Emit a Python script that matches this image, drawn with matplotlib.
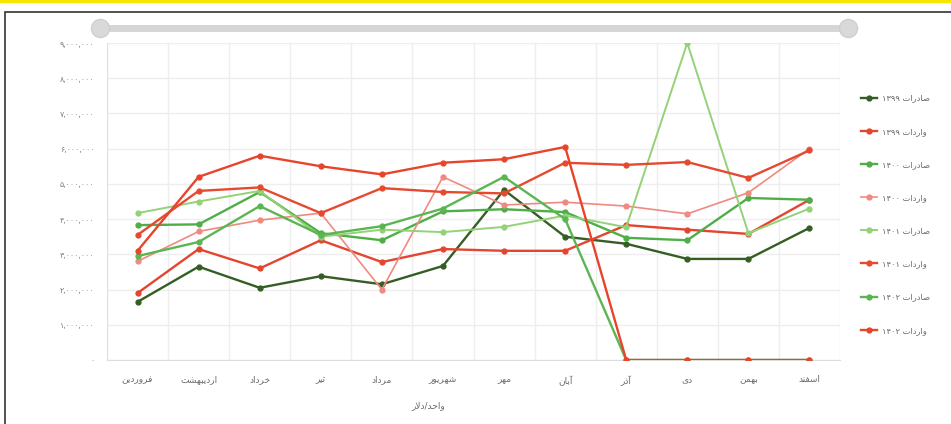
import matplotlib
matplotlib.use("Agg")
import matplotlib.pyplot as plt
from matplotlib.lines import Line2D
from matplotlib.patches import Rectangle

# months (farvardin .. esfand)
months = ["فروردین", "اردیبهشت", "خرداد", "تیر", "مرداد", "شهریور",
          "مهر", "آبان", "آذر", "دی", "بهمن", "اسفند"]

# values in millions
export_1399 = [1.65, 2.65, 2.05, 2.38, 2.15, 2.67, 4.83, 3.5, 3.3, 2.87, 2.87, 3.75]
import_1399 = [1.9, 3.15, 2.6, 3.4, 2.78, 3.15, 3.1, 3.1, 3.83, 3.7, 3.58, 4.55]
export_1400 = [3.83, 3.85, 4.77, 3.6, 3.4, 4.22, 4.28, 4.2, 3.47, 3.4, 4.6, 4.55]
import_1400 = [2.8, 3.65, 3.97, 4.17, 2.0, 5.2, 4.4, 4.48, 4.37, 4.15, 4.75, 6.0]
export_1401 = [4.17, 4.5, 4.8, 3.5, 3.7, 3.63, 3.78, 4.1, 3.77, 9.0, 3.6, 4.3]
import_1401 = [3.55, 4.8, 4.9, 4.17, 4.88, 4.77, 4.73, 5.6, 5.54, 5.62, 5.17, 5.95]
export_1402 = [2.95, 3.35, 4.37, 3.55, 3.8, 4.3, 5.2, 4.0, 0, 0, 0, 0]
import_1402 = [3.1, 5.2, 5.8, 5.5, 5.27, 5.6, 5.7, 6.05, 0, 0, 0, 0]

series_names = ["صادرات ۱۳۹۹", "واردات ۱۳۹۹", "صادرات ۱۴۰۰", "واردات ۱۴۰۰",
                "صادرات ۱۴۰۱", "واردات ۱۴۰۱", "صادرات ۱۴۰۲", "واردات ۱۴۰۲"]
x_title = "واحد/دلار"

# --- tiny persian shaper (matplotlib has no arabic shaping) ---
FORMS = {  # isolated, final, initial, medial
    "ا": (0xFE8D, 0xFE8E, None, None),
    "آ": (0xFE81, 0xFE82, None, None),
    "د": (0xFEA9, 0xFEAA, None, None),
    "ذ": (0xFEAB, 0xFEAC, None, None),
    "ر": (0xFEAD, 0xFEAE, None, None),
    "ز": (0xFEAF, 0xFEB0, None, None),
    "و": (0xFEED, 0xFEEE, None, None),
    "ب": (0xFE8F, 0xFE90, 0xFE91, 0xFE92),
    "ت": (0xFE95, 0xFE96, 0xFE97, 0xFE98),
    "ح": (0xFEA1, 0xFEA2, 0xFEA3, 0xFEA4),
    "خ": (0xFEA5, 0xFEA6, 0xFEA7, 0xFEA8),
    "س": (0xFEB1, 0xFEB2, 0xFEB3, 0xFEB4),
    "ش": (0xFEB5, 0xFEB6, 0xFEB7, 0xFEB8),
    "ص": (0xFEB9, 0xFEBA, 0xFEBB, 0xFEBC),
    "ف": (0xFED1, 0xFED2, 0xFED3, 0xFED4),
    "ل": (0xFEDD, 0xFEDE, 0xFEDF, 0xFEE0),
    "م": (0xFEE1, 0xFEE2, 0xFEE3, 0xFEE4),
    "ن": (0xFEE5, 0xFEE6, 0xFEE7, 0xFEE8),
    "ه": (0xFEE9, 0xFEEA, 0xFEEB, 0xFEEC),
    "ی": (0xFEEF, 0xFEF0, 0xFEF3, 0xFEF4),
}


def shape_word(w):
    out = []
    i = 0
    while i < len(w):
        c = w[i]
        if c not in FORMS:
            out.append(c)
            i += 1
            continue
        prev = w[i - 1] if i > 0 else None
        joins_prev = prev in FORMS and FORMS[prev][2] is not None
        # lam-alef ligature
        if c == "ل" and i + 1 < len(w) and w[i + 1] == "ا":
            out.append(chr(0xFEFC if joins_prev else 0xFEFB))
            i += 2
            continue
        nxt = w[i + 1] if i + 1 < len(w) else None
        joins_next = FORMS[c][2] is not None and nxt in FORMS
        f = FORMS[c]
        if joins_prev and joins_next:
            code = f[3]
        elif joins_prev:
            code = f[1]
        elif joins_next:
            code = f[2]
        else:
            code = f[0]
        out.append(chr(code))
        i += 1
    return "".join(reversed(out))


def fa(text):
    tokens = []
    cur = ""
    for ch in text:
        if ch in " /":
            tokens.append(cur)
            tokens.append(ch)
            cur = ""
        else:
            cur += ch
    tokens.append(cur)
    res = []
    for t in tokens:
        if t and t[0] in FORMS:
            res.append(shape_word(t))
        else:
            res.append(t)
    return "".join(reversed(res))


def fa_digits(s):
    return s.translate(str.maketrans("0123456789", "۰۱۲۳۴۵۶۷۸۹"))


plt.rcParams["font.family"] = ["DejaVu Sans"]

fig = plt.figure(figsize=(9.51, 4.24), dpi=100)
ax = fig.add_axes([107 / 951, 64 / 424, 733 / 951, 317 / 424])

colors = ["#355e24", "#e3452f", "#4fae47", "#f08a80",
          "#93d277", "#e54a30", "#5bb552", "#e8442b"]
widths = [1.7, 1.7, 1.7, 1.2, 1.4, 1.7, 1.7, 1.7]
all_series = [export_1399, import_1399, export_1400, import_1400,
              export_1401, import_1401, export_1402, import_1402]

x = list(range(len(months)))
handles = []
for vals, name, col, lw in zip(all_series, series_names, colors, widths):
    ln, = ax.plot(x, vals, color=col, lw=lw, marker="o", markersize=3.5,
                  label=fa(name), zorder=3)
    handles.append(ln)

ax.set_xlim(-0.5, len(months) - 0.5)
ax.set_ylim(0, 9)
ax.set_yticks(range(0, 10))
ax.set_yticklabels([fa_digits(f"{v * 1000000:,}") for v in range(0, 10)])
ax.set_xticks(x)
ax.set_xticklabels([fa(m) for m in months])

ax.set_xticks([i - 0.5 for i in range(len(months) + 1)], minor=True)
ax.grid(axis="y", color="#eeeeee", lw=1)
ax.grid(axis="x", which="minor", color="#eeeeee", lw=1)
ax.set_axisbelow(True)
for s in ["top", "right"]:
    ax.spines[s].set_visible(False)
ax.spines["left"].set_color("#e0e0e0")
ax.spines["bottom"].set_color("#dddddd")
ax.tick_params(axis="both", which="both", length=0)
ax.tick_params(axis="y", labelsize=5.8, labelcolor="#8a7d76", pad=9)
ax.tick_params(axis="x", labelsize=6.5, labelcolor="#6f6a66", pad=11)

fig.text(428 / 951, 1 - 406 / 424, fa(x_title), fontsize=6.5, color="#6f6a66",
         ha="center", va="center")

fig.legend(handles=handles, loc="center left", bbox_to_anchor=(853 / 951, 0.495),
           frameon=False, fontsize=6, labelcolor="#6f6a66", labelspacing=2.9,
           handlelength=2.0, handletextpad=0.6)

# slider on top
fig.add_artist(Line2D([100 / 951, 848 / 951], [1 - 28 / 424, 1 - 28 / 424],
                      transform=fig.transFigure, color="#d6d6d6", lw=5,
                      solid_capstyle="round"))
fig.add_artist(Line2D([100 / 951, 848 / 951], [1 - 28 / 424, 1 - 28 / 424],
                      transform=fig.transFigure, color="#d9d9d9", lw=0,
                      marker="o", markersize=13, markeredgecolor="#cfcfcf"))

# outer frame and yellow top line
fig.add_artist(Rectangle((5 / 951, -0.05), 1.2, 1 - 12 / 424 + 0.05,
                         transform=fig.transFigure, fill=False,
                         edgecolor="#333333", lw=1.2))
fig.add_artist(Line2D([0, 1], [1 - 1 / 424, 1 - 1 / 424],
                      transform=fig.transFigure, color="#f7e600", lw=2.5))

fig.savefig("out.png", dpi=100)
